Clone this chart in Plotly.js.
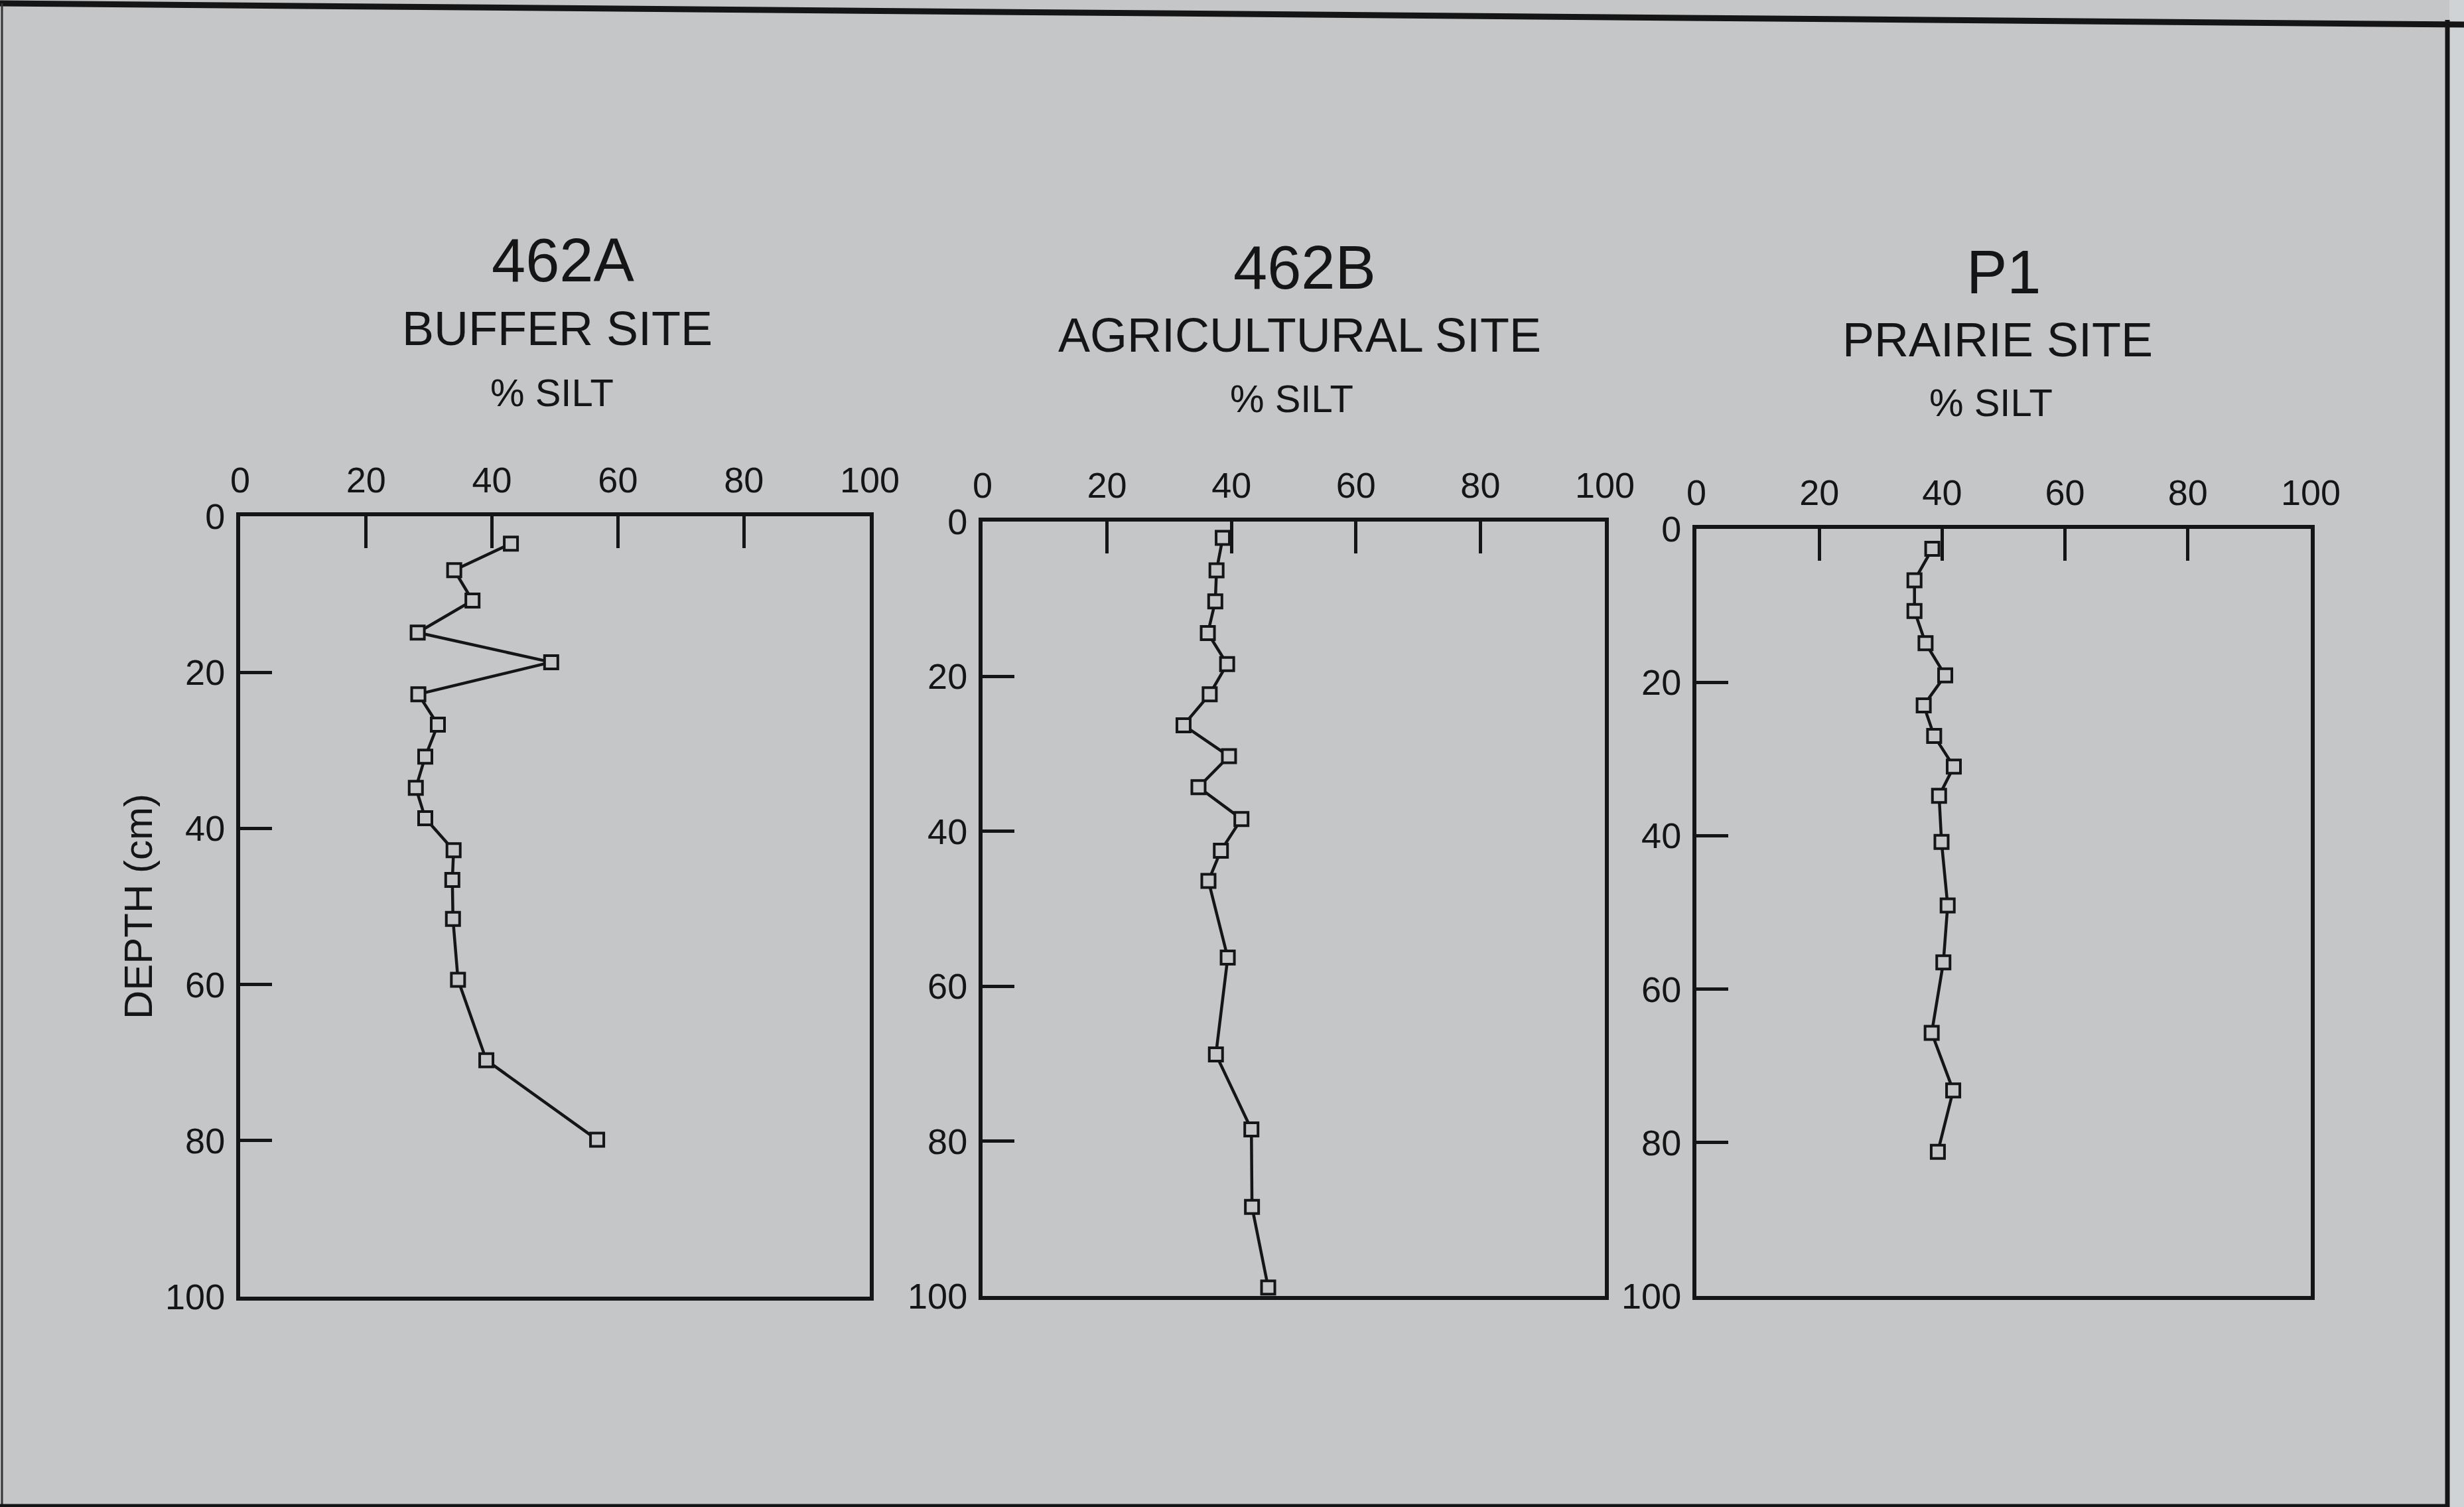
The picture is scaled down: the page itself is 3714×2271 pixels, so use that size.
<!DOCTYPE html>
<html>
<head>
<meta charset="utf-8">
<script src="https://cdn.plot.ly/plotly-3.0.1.min.js"></script>
<style>html,body{margin:0;padding:0;background:#c5c6c8;}#chart{width:3714px;height:2271px;}</style>
</head>
<body>
<div id="chart"></div>
<script>
// ---- data ----
const siteCodes = ["462A", "462B", "P1"];
const siteNames = ["BUFFER SITE", "AGRICULTURAL SITE", "PRAIRIE SITE"];
const axisLabel = "% SILT";
const depthLabel = "DEPTH (cm)";
const tickValues = [0, 20, 40, 60, 80, 100];

const silt462A  = [43.0, 34.0, 36.9, 28.2, 49.4, 28.3, 31.4, 29.4, 27.9, 29.4, 33.9, 33.7, 33.8, 34.6, 39.1, 56.7];
const depth462A = [3.5, 6.9, 10.8, 14.9, 18.7, 22.8, 26.7, 30.8, 34.8, 38.7, 42.8, 46.6, 51.6, 59.4, 69.7, 79.9];

const silt462B  = [38.6, 37.6, 37.4, 36.2, 39.3, 36.5, 32.3, 39.6, 34.7, 41.6, 38.3, 36.3, 39.4, 37.5, 43.2, 43.3, 45.9];
const depth462B = [2.1, 6.3, 10.3, 14.4, 18.4, 22.3, 26.3, 30.3, 34.3, 38.4, 42.5, 46.4, 56.3, 68.8, 78.5, 88.5, 98.9];

const siltP1  = [38.4, 35.5, 35.5, 37.3, 40.5, 37.0, 38.7, 41.9, 39.5, 39.9, 40.9, 40.2, 38.3, 41.8, 39.3];
const depthP1 = [2.6, 6.7, 10.7, 14.9, 19.1, 23.0, 27.0, 31.0, 34.8, 40.8, 49.1, 56.5, 65.7, 73.2, 81.2];

// ---- layout helpers ----
const W = 3714, H = 2271;
const BG = "#c5c6c8";
const INK = "#151515";
const FONT = "Liberation Sans, Arial, sans-serif";
const px = v => v / W;
const py = v => 1 - v / H;

const panels = [
  {x0: 362,  x1: 1311, y0: 778, y1: 1954, t: [848, 392], s: [840, 495], u: [832, 592]},
  {x0: 1481, x1: 2419, y0: 786, y1: 1953, t: [1966, 403], s: [1959, 505], u: [1947, 600]},
  {x0: 2557, x1: 3483, y0: 797, y1: 1953, t: [3020, 410], s: [3011, 512], u: [3001, 606]}
];
const seriesX = [silt462A, silt462B, siltP1];
const seriesY = [depth462A, depth462B, depthP1];

const traces = [];
const layout = {
  width: W, height: H,
  margin: {l: 0, r: 0, t: 0, b: 0},
  paper_bgcolor: BG, plot_bgcolor: BG,
  showlegend: false,
  font: {family: FONT, color: INK},
  annotations: [],
  shapes: []
};

panels.forEach((p, i) => {
  const n = i === 0 ? "" : String(i + 1);
  traces.push({
    type: "scatter", mode: "lines+markers",
    x: seriesX[i], y: seriesY[i],
    xaxis: "x" + n, yaxis: "y" + n,
    line: {color: INK, width: 4.5},
    marker: {symbol: "square", size: 20, color: BG, line: {color: INK, width: 4}},
    cliponaxis: false,
    hoverinfo: "x+y"
  });
  const common = {
    ticks: "inside", ticklen: 48, tickwidth: 5, tickcolor: INK,
    showline: true, mirror: true, linewidth: 6, linecolor: INK,
    showgrid: false, zeroline: false,
    tickmode: "array", tickvals: tickValues, ticktext: tickValues.map(String),
    tickfont: {family: FONT, size: 54, color: INK},
    fixedrange: true
  };
  layout["xaxis" + n] = Object.assign({}, common, {
    domain: [px(p.x0), px(p.x1)], range: [0, 100], side: "top",
    anchor: "y" + n, ticklabelstandoff: 8
  });
  layout["yaxis" + n] = Object.assign({}, common, {
    domain: [py(p.y1), py(p.y0)], range: [100, 0],
    anchor: "x" + n, ticklabelstandoff: 6
  });
  if (i === 0) {
    layout["yaxis" + n].title = {text: depthLabel, font: {family: FONT, size: 60, color: INK}, standoff: 2};
  }
  layout.annotations.push(
    {xref: "paper", yref: "paper", x: px(p.t[0]), y: py(p.t[1]), text: siteCodes[i],
     showarrow: false, xanchor: "center", yanchor: "middle", font: {family: FONT, size: 92, color: INK}},
    {xref: "paper", yref: "paper", x: px(p.s[0]), y: py(p.s[1]), text: siteNames[i],
     showarrow: false, xanchor: "center", yanchor: "middle", font: {family: FONT, size: 72, color: INK}},
    {xref: "paper", yref: "paper", x: px(p.u[0]), y: py(p.u[1]), text: axisLabel,
     showarrow: false, xanchor: "center", yanchor: "middle", font: {family: FONT, size: 58, color: INK}}
  );
});

// outer frame of the scanned page
layout.shapes.push(
  {type: "rect", xref: "paper", yref: "paper", x0: px(3692), x1: 1, y0: 0, y1: 1,
   fillcolor: "#d0d3d6", line: {width: 0}, layer: "below"},
  {type: "path", xref: "paper", yref: "paper",
   path: `M ${px(0)},${py(5)} L ${px(3714)},${py(37)}`,
   line: {color: INK, width: 9}},
  {type: "line", xref: "paper", yref: "paper", x0: px(3689), x1: px(3689), y0: py(30), y1: py(2271),
   line: {color: INK, width: 7}},
  {type: "line", xref: "paper", yref: "paper", x0: px(3), x1: px(3), y0: py(5), y1: py(2271),
   line: {color: "#333", width: 3}},
  {type: "line", xref: "paper", yref: "paper", x0: 0, x1: px(3692), y0: py(2269), y1: py(2269),
   line: {color: INK, width: 5}}
);

Plotly.newPlot("chart", traces, layout, {displayModeBar: false, staticPlot: true});
</script>
</body>
</html>
